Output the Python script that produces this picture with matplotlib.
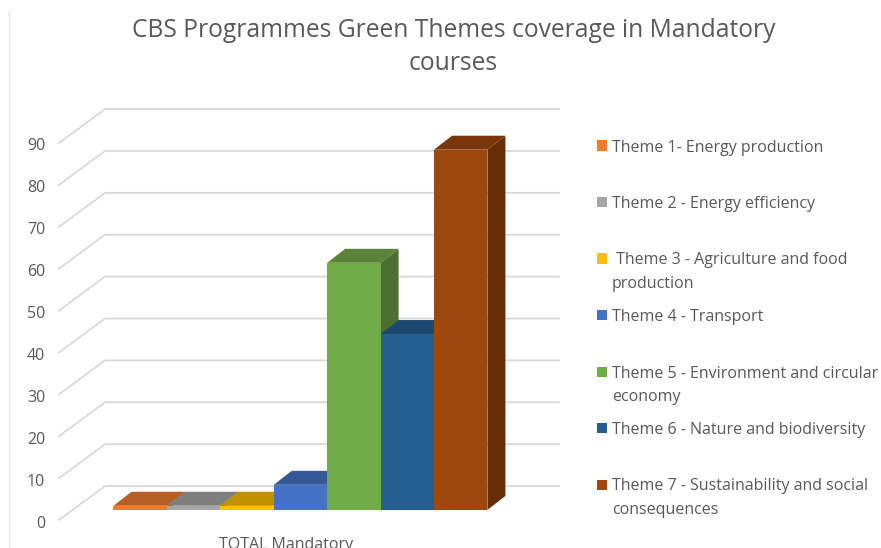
"""Faux 3D column chart of green theme coverage in mandatory courses."""
import matplotlib.pyplot as plt
from matplotlib.lines import Line2D
from matplotlib.patches import Polygon, Rectangle
from matplotlib.transforms import ScaledTranslation

themes = [
    "Theme 1- Energy production",
    "Theme 2 - Energy efficiency",
    " Theme 3 - Agriculture and food\nproduction",
    "Theme 4 - Transport",
    "Theme 5 - Environment and circular\neconomy",
    "Theme 6 - Nature and biodiversity",
    "Theme 7 - Sustainability and social\nconsequences",
]
values = [1, 1, 1, 6, 59, 42, 86]
y_ticks = [0, 10, 20, 30, 40, 50, 60, 70, 80, 90]
category = "TOTAL Mandatory"

front_colors = ["#ED7D31", "#A5A5A5", "#FFC000", "#4472C4", "#70AD47", "#255E91", "#9E480E"]
top_colors = ["#B65F25", "#7F7F7F", "#C19100", "#345796", "#5A8239", "#1C4870", "#78360A"]
side_colors = ["#8E4B1D", "#666666", "#997300", "#2A4679", "#4B6F2E", "#173A5A", "#652E06"]

TEXT = "#595959"
GRID = "#D9D9D9"
W, H = 881, 548

# depth offsets, in data units
WALL_DX, WALL_DY = 0.861, 8.1
BAR_DX, BAR_DY = 0.337, 3.34
FLOOR_Y = 2.4

plt.rcParams["font.family"] = ["Open Sans", "DejaVu Sans"]

fig = plt.figure(figsize=(W / 100, H / 100), dpi=100)
ax = fig.add_axes([59 / W, 1 - 520 / H, 500 / W, 377 / H])
ax.set_xlim(-1.02, 8.34)
ax.set_ylim(0, 90)
ax.patch.set_alpha(0)
for spine in ax.spines.values():
    spine.set_visible(False)

ax.set_yticks(y_ticks)
ax.set_xticks([3.235])
ax.set_xticklabels([category])
ax.tick_params(axis="y", length=0, pad=10, labelsize=11.5, labelcolor=TEXT)
ax.tick_params(axis="x", length=0, pad=12.5, labelsize=11.5, labelcolor=TEXT)
nudge = ScaledTranslation(0, -1.5 / 100, fig.dpi_scale_trans)
for lbl in ax.get_yticklabels():
    lbl.set_transform(lbl.get_transform() + nudge)

# back wall and side wall grid
x0 = ax.get_xlim()[0]
x1 = ax.get_xlim()[1]
for v in y_ticks:
    ax.plot(
        [x0, x0 + WALL_DX, x1],
        [v, v + WALL_DY, v + WALL_DY],
        color=GRID,
        linewidth=1.3,
        clip_on=False,
        zorder=1,
    )

# columns go left to right so each one hides the side of the previous one
for i, v in enumerate(values):
    top = v + FLOOR_Y
    front = [(i, FLOOR_Y), (i + 1, FLOOR_Y), (i + 1, top), (i, top)]
    roof = [
        (i, top),
        (i + 1, top),
        (i + 1 + BAR_DX, top + BAR_DY),
        (i + BAR_DX, top + BAR_DY),
    ]
    side = [
        (i + 1, FLOOR_Y),
        (i + 1 + BAR_DX, FLOOR_Y + BAR_DY),
        (i + 1 + BAR_DX, top + BAR_DY),
        (i + 1, top),
    ]
    z = 2 + i
    ax.add_patch(Polygon(side, facecolor=side_colors[i], edgecolor="none", zorder=z, clip_on=False))
    ax.add_patch(Polygon(roof, facecolor=top_colors[i], edgecolor="none", zorder=z, clip_on=False))
    ax.add_patch(Polygon(front, facecolor=front_colors[i], edgecolor="none", zorder=z, clip_on=False))

fig.text(
    453.5 / W,
    1 - 47 / H,
    "CBS Programmes Green Themes coverage in Mandatory\ncourses",
    ha="center",
    va="center",
    fontsize=17.75,
    color=TEXT,
    linespacing=1.44,
)

# legend rows sit at an even pitch, wrapped labels run into the gap
for i, label in enumerate(themes):
    y = 145.5 + i * 56.5
    fig.add_artist(
        Rectangle(
            (597 / W, 1 - (y + 5) / H),
            10 / W,
            10 / H,
            transform=fig.transFigure,
            facecolor=front_colors[i],
            edgecolor="none",
        )
    )
    fig.text(
        612 / W,
        1 - (y - 6) / H,
        label,
        ha="left",
        va="top",
        fontsize=11.5,
        color=TEXT,
        linespacing=1.62,
    )

# faint edge of the original chart frame
fig.add_artist(
    Line2D([8.5 / W, 8.5 / W], [0, 1 - 11 / H], color="#E6E6E6", linewidth=1, transform=fig.transFigure)
)

fig.savefig("out.png", dpi=100)
plt.close(fig)
